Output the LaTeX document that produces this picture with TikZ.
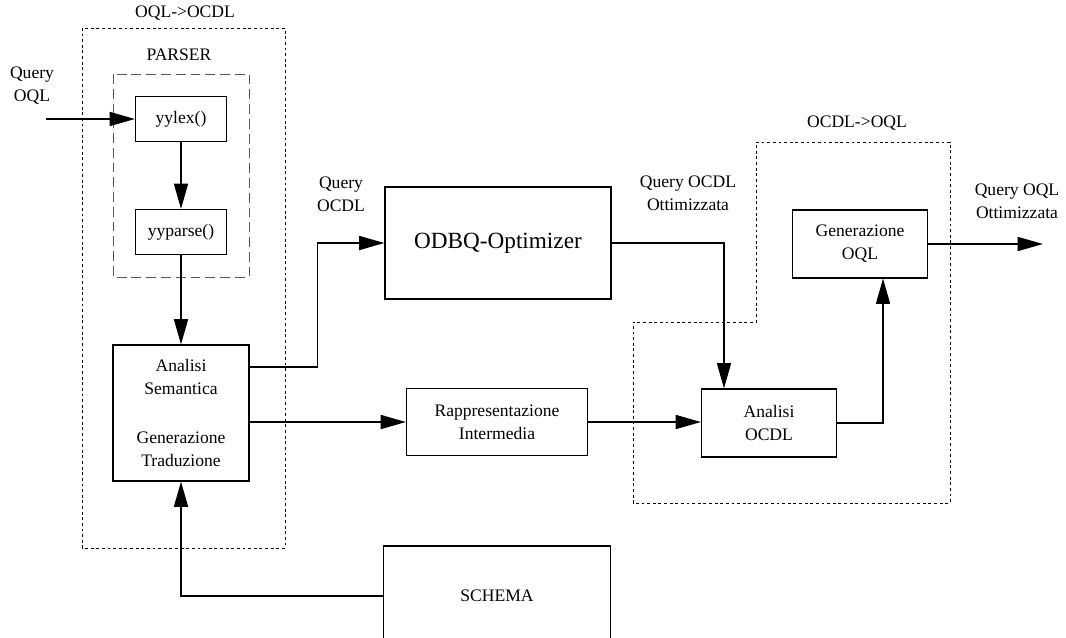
\documentclass[tikz,border=0pt]{standalone}
\usepackage{fontspec}
\setmainfont{Liberation Serif}
\usetikzlibrary{calc,positioning,arrows.meta}

\begin{document}
\begin{tikzpicture}[x=0.025cm, y=-0.025cm]
\tikzstyle{blk}=[draw, line width=0.8pt, align=center, inner sep=1pt,
                        font=\fontsize{12.5}{16.3}\selectfont]
\tikzstyle{lbl}=[align=center, inner sep=0pt, font=\fontsize{12.5}{16.3}\selectfont]
\tikzstyle{flow}=[line width=1pt, -{Triangle[length=18pt,width=10pt]}]
\tikzstyle{area}=[line width=0.6pt, dash pattern=on 2pt off 2pt]
\path[use as bounding box, clip] (0,0) rectangle (1066,638);
%\draw[red] (0,0) rectangle (1066,638);
% translator OQL -> OCDL
\draw[area] (82,28) rectangle (285,548);
\node[lbl] (tOQL) at (185,13) {OQL->OCDL};
\draw[line width=0.6pt, black!65, dash pattern=on 7pt off 3.5pt] (113,74) rectangle (249,277);
\node[lbl] (parser) at (179,55) {PARSER};
\node[blk, minimum width=2.275cm, minimum height=1.125cm] (yylex) at (181,119) {yylex()};
\node[blk, minimum width=2.275cm, minimum height=1.125cm] (yyparse) at (181,232) {yyparse()};
\node[blk, minimum width=3.4cm, minimum height=3.4cm] (sem) at (181,413)
     {Analisi\\Semantica\\[18pt]Generazione\\Traduzione};
% optimizer
\node[blk, minimum width=5.65cm, minimum height=2.8cm,
      font=\fontsize{16.5}{20}\selectfont] (odbq) at (498,243) {ODBQ-Optimizer};
\node[blk, minimum width=4.525cm, minimum height=1.675cm] (rapp) at (497,422)
     {Rappresentazione\\Intermedia};
\node[blk, minimum width=5.675cm, minimum height=2.5cm] (schema) at (497,596) {SCHEMA};
% translator OCDL -> OQL
\draw[area] (756,142) -- (950,142) -- (950,503) -- (633,503) -- (633,322) -- (756,322) -- cycle;
\node[lbl] (tOCDL) at (857,123) {OCDL->OQL};
\node[blk, minimum width=3.375cm, minimum height=1.7cm] (aocdl) at (769,423) {Analisi\\OCDL};
\node[blk, minimum width=3.375cm, minimum height=1.7cm] (genoql) at (860,244) {Generazione\\OQL};
% labels
\node[lbl] (qoql) at (32,86) {Query\\OQL};
\node[lbl] (qocdl) at (341,194) {Query\\OCDL};
\node[lbl] (qocdlo) at (688,193) {Query OCDL\\Ottimizzata};
\node[lbl] (qoqlo) at (1017,201) {Query OQL\\Ottimizzata};
\coordinate (qin) at (46,119);
\coordinate (qout) at (1043,244);
% flows
\draw[flow] (qin) -- (yylex);
\draw[flow] (yylex) -- (yyparse);
\draw[flow] (yyparse) -- (sem);
\draw[flow] ([yshift=1.15cm]sem.east) -- ++(68,0) |- (odbq.west);
\draw[flow] (sem.east |- rapp.west) -- (rapp.west);
\draw[flow] (rapp.east) -- (rapp.east -| aocdl.west);
\draw[flow] (odbq.east) -| ([xshift=-1.125cm]aocdl.north);
\draw[flow] (aocdl.east) -| ([xshift=0.575cm]genoql.south);
\draw[flow] (genoql.east) -- (qout);
\draw[flow] (schema.west) -| (sem.south);
\end{tikzpicture}
\end{document}
